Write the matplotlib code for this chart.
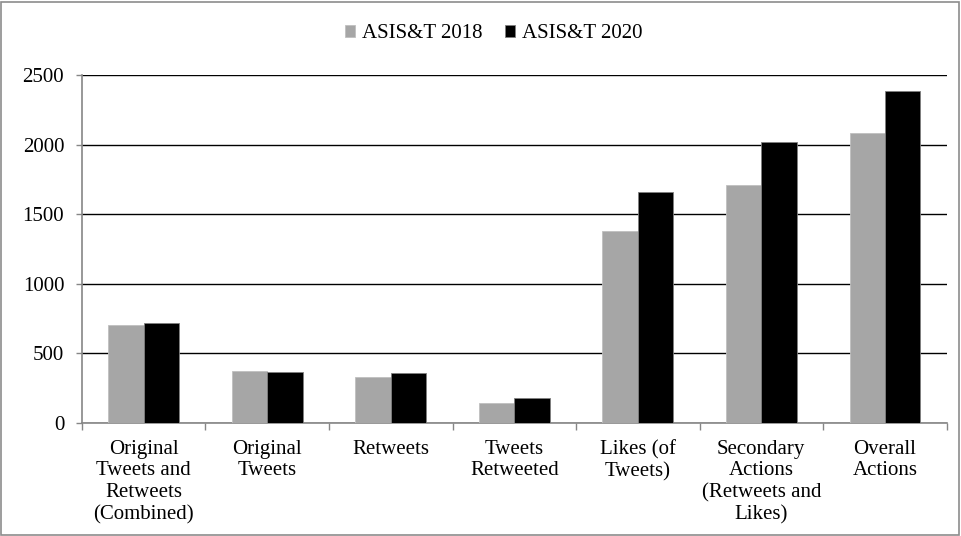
import matplotlib.pyplot as plt
import numpy as np
from matplotlib.patches import Rectangle

plt.rcParams['font.family'] = ['Liberation Serif', 'DejaVu Serif']

categories = ['Original\nTweets and\nRetweets\n(Combined)', 'Original\nTweets', 'Retweets',
              'Tweets\nRetweeted', 'Likes (of\nTweets)', 'Secondary\nActions\n(Retweets and\nLikes)',
              'Overall\nActions']
asist_2018 = [704, 372, 330, 142, 1378, 1710, 2082]
asist_2020 = [717, 365, 357, 178, 1661, 2017, 2382]

fig = plt.figure(figsize=(9.61, 5.36), dpi=100)
ax = fig.add_axes([0.0853, 0.2108, 0.8997, 0.6492])

x = np.arange(len(categories))
w = 0.286
ax.bar(x - w / 2, asist_2018, w, color='#a6a6a6', edgecolor='#bfbfbf', linewidth=0.6,
       label='ASIS&T 2018', zorder=3)
ax.bar(x + w / 2, asist_2020, w, color='black', edgecolor='#7f7f7f', linewidth=0.6,
       label='ASIS&T 2020', zorder=3)

ax.set_xlim(-0.5, len(categories) - 0.5)
ax.set_ylim(0, 2500)
ax.set_yticks(range(0, 2501, 500))
ax.yaxis.grid(True, color='black', linewidth=1.0, zorder=0)

ax.set_xticks(x)
ax.set_xticklabels(categories, fontsize=15, linespacing=1.2)
ax.set_xticks(np.arange(-0.5, len(categories), 1), minor=True)
ax.tick_params(axis='x', which='major', length=0, pad=12)
ax.tick_params(axis='x', which='minor', length=5, color='#868686', width=1)
ax.tick_params(axis='y', labelsize=15, length=4.3, color='#868686', width=1, pad=8.5)

for side in ['top', 'right']:
    ax.spines[side].set_visible(False)
for side in ['left', 'bottom']:
    ax.spines[side].set_color('#868686')
    ax.spines[side].set_linewidth(1.2)

fig.legend(loc='center', bbox_to_anchor=(0.5135, 0.937), ncol=2, frameon=False, fontsize=15,
           handlelength=0.5, handleheight=0.5, handletextpad=0.3, columnspacing=1.1)

fig.patches.append(Rectangle((0.001, 0.002), 0.997, 0.994, transform=fig.transFigure,
                             fill=False, edgecolor='#8c8c8c', linewidth=1.2))

fig.savefig('out.png', dpi=100)
